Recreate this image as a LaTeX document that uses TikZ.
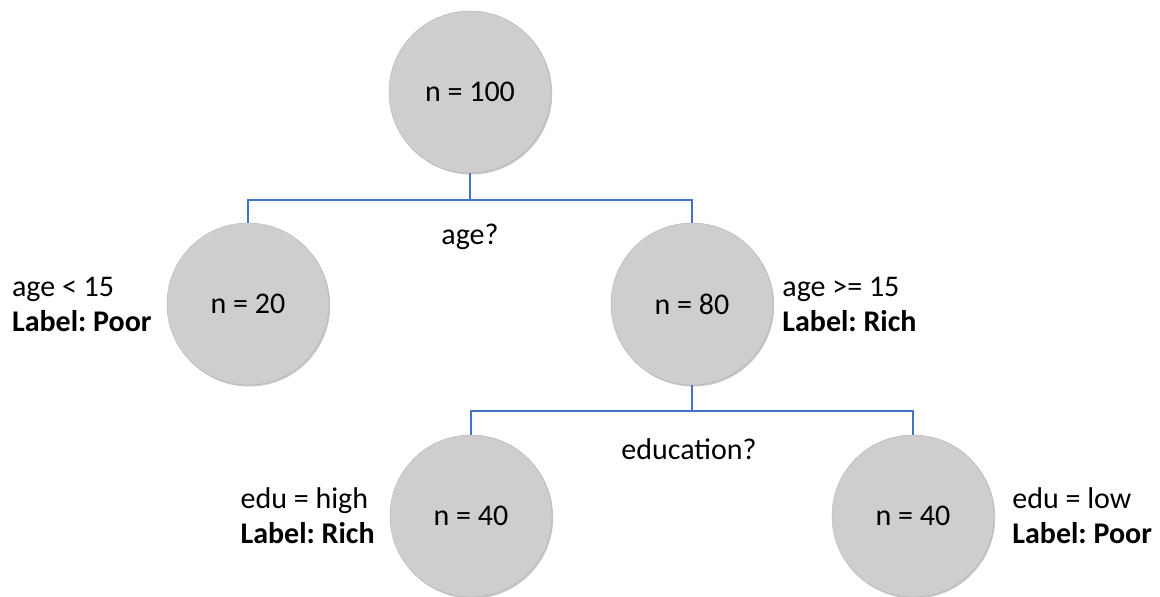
\documentclass[tikz,border=0pt]{standalone}
\usepackage{fontspec}
\setmainfont{Carlito}
\usepackage{tikz}
\usetikzlibrary{
  positioning,
  shadows
}
\frenchspacing
\definecolor{dtNode}{HTML}{CFCDCE}
\definecolor{dtRim}{HTML}{B4B2B3}
\definecolor{dtEdge}{HTML}{4472C4}
\tikzset{
  splitnode/.style={
    circle, draw=dtRim, fill=dtNode, minimum size=162pt, inner sep=0pt,
    font=\fontsize{30}{36}\selectfont,
    drop shadow={shadow xshift=1.2pt, shadow yshift=-1.5pt, fill=black, opacity=.22}
  },
  branch/.style={line width=1.1pt, dtEdge},
  question/.style={font=\fontsize{30}{36}\selectfont, inner sep=1pt},
  leafinfo/.style={font=\fontsize{30}{35}\selectfont, align=left, inner sep=2pt}
}

\begin{document}
\begin{tikzpicture}[x=1pt, y=-1pt, node distance=10pt]
  \useasboundingbox (0,0) rectangle (1160,597);
  % nodes of the tree
  \node[splitnode] (root) at (470,92) {n = 100};
  \node[splitnode] (young) at (248,304) {n = 20};
  \node[splitnode] (old) at (692,304) {n = 80};
  \node[splitnode] (high) at (471,516) {n = 40};
  \node[splitnode] (low) at (913,516) {n = 40};

  % split questions
  \coordinate (s1) at (470,200);
  \coordinate (s2) at (692,411);
  \node[question] (q1) at (470,237) {age?};
  \node[question] (q2) at (689,449) {education?};

  % branches
  \draw[branch] (root) -- (s1);
  \draw[branch] (s1) -| (young);
  \draw[branch] (s1) -| (old);
  \draw[branch] (old) -- (s2);
  \draw[branch] (s2) -| (high);
  \draw[branch] (s2) -| (low);

  % leaf labels
  \node[leafinfo, left=13pt of young] (lyoung) {age < 15\\\textbf{Label: Poor}};
  \node[leafinfo, right=7pt of old] (lold) {age >= 15\\\textbf{Label: Rich}};
  \node[leafinfo, left=13pt of high] (lhigh) {edu = high\\\textbf{Label: Rich}};
  \node[leafinfo, right=16pt of low] (llow) {edu = low\\\textbf{Label: Poor}};
\end{tikzpicture}
\end{document}
